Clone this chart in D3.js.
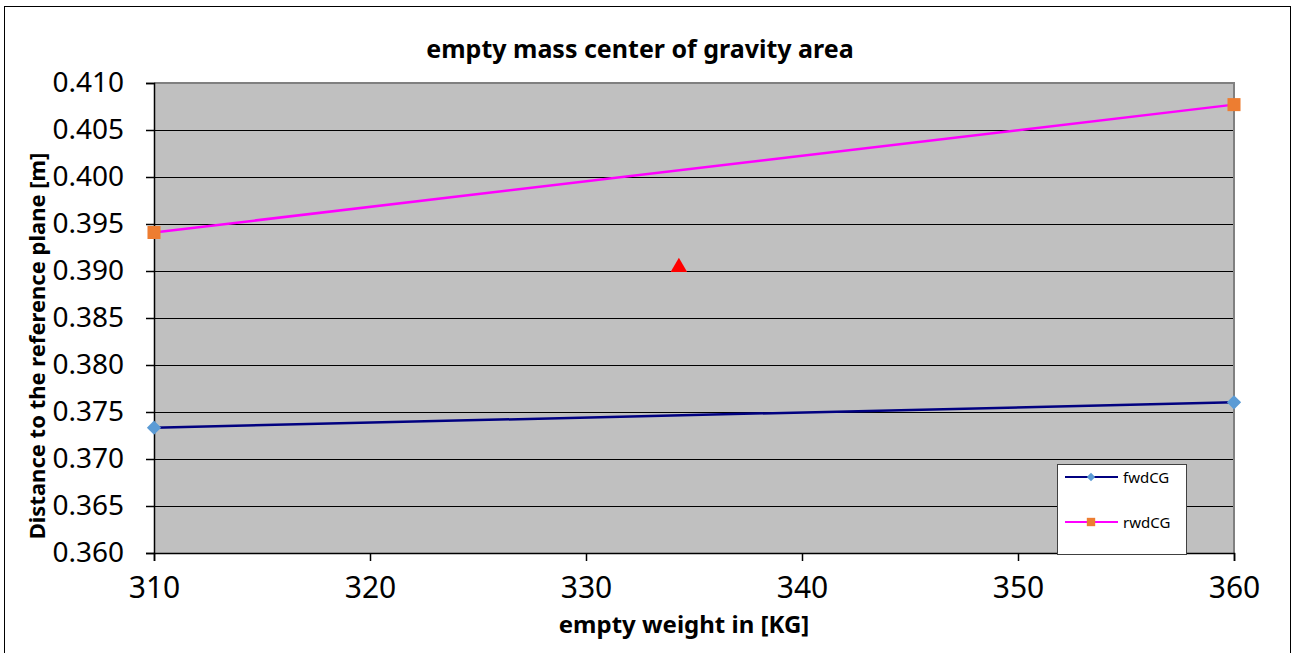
<!DOCTYPE html>
<html>
<head>
<meta charset="utf-8">
<script src="https://cdn.jsdelivr.net/npm/d3@7"></script>
<style>
  body { margin: 0; background: #fff; }
  svg { display: block; font-family: "Noto Sans", "Open Sans", sans-serif; }
</style>
</head>
<body>
<script>
const weights = [310, 360];
const fwdCG = [0.37333, 0.37603];
const rwdCG = [0.3941, 0.4077];
const actualPoint = [334.3, 0.3904];
const xTicks = [310, 320, 330, 340, 350, 360];
const yTicks = [0.360, 0.365, 0.370, 0.375, 0.380, 0.385, 0.390, 0.395, 0.400, 0.405, 0.410];

const width = 1298;
const height = 653;
const plot = { left: 154, top: 83, right: 1234, bottom: 553 };

const svg = d3.select("body")
    .append("svg")
    .attr("width", width)
    .attr("height", height);

// outer chart border
svg.append("rect")
    .attr("x", 4.5).attr("y", 6.5)
    .attr("width", 1286).attr("height", 660)
    .attr("fill", "#fff")
    .attr("stroke", "#000")
    .attr("stroke-width", 1);

const x = d3.scaleLinear().domain([310, 360]).range([plot.left, plot.right]);
const y = d3.scaleLinear().domain([0.360, 0.410]).range([plot.bottom, plot.top]);

// plot background
svg.append("rect")
    .attr("x", plot.left).attr("y", plot.top)
    .attr("width", plot.right - plot.left).attr("height", plot.bottom - plot.top)
    .attr("fill", "#c0c0c0");

// gridlines
svg.append("g")
    .selectAll("line")
    .data(yTicks.slice(1, -1))
    .enter()
    .append("line")
    .attr("x1", plot.left).attr("x2", plot.right)
    .attr("y1", d => Math.round(y(d)) + 0.5).attr("y2", d => Math.round(y(d)) + 0.5)
    .attr("stroke", "#000")
    .attr("stroke-width", 1);

// top + right border of plot
svg.append("path")
    .attr("d", `M${plot.left},${plot.top} H${plot.right} V${plot.bottom}`)
    .attr("fill", "none")
    .attr("stroke", "#808080")
    .attr("stroke-width", 2);

const yAxis = d3.axisLeft(y).tickValues(yTicks).tickFormat(d3.format(".3f")).tickSize(8).tickPadding(22);
const xAxis = d3.axisBottom(x).tickValues(xTicks).tickFormat(d3.format("d")).tickSize(8).tickPadding(16);

svg.append("g")
    .attr("transform", `translate(${plot.left},0)`)
    .call(yAxis)
    .call(g => g.selectAll("text").attr("font-size", 28).attr("fill", "#000").attr("font-family", "Noto Sans"))
    .call(g => g.selectAll("line, path").attr("stroke", "#000").attr("stroke-width", 1.5));

svg.append("g")
    .attr("transform", `translate(0,${plot.bottom})`)
    .call(xAxis)
    .call(g => g.selectAll("text").attr("font-size", 30).attr("fill", "#000").attr("font-family", "Noto Sans"))
    .call(g => g.selectAll("line, path").attr("stroke", "#000").attr("stroke-width", 1.5));

const line = d3.line().x((d, i) => x(weights[i])).y(d => y(d));

svg.append("path")
    .datum(fwdCG)
    .attr("d", line)
    .attr("fill", "none")
    .attr("stroke", "#000080")
    .attr("stroke-width", 2.5);

svg.append("path")
    .datum(rwdCG)
    .attr("d", line)
    .attr("fill", "none")
    .attr("stroke", "#ff00ff")
    .attr("stroke-width", 2.5);

const diamond = d3.symbol().type(d3.symbolDiamond2).size(130);
const square = d3.symbol().type(d3.symbolSquare).size(170);
const triangle = d3.symbol().type(d3.symbolTriangle).size(120);

svg.append("g")
    .selectAll("path")
    .data(fwdCG)
    .enter()
    .append("path")
    .attr("d", diamond)
    .attr("transform", (d, i) => `translate(${x(weights[i])},${y(d)})`)
    .attr("fill", "#5b9bd5");

svg.append("g")
    .selectAll("path")
    .data(rwdCG)
    .enter()
    .append("path")
    .attr("d", square)
    .attr("transform", (d, i) => `translate(${x(weights[i])},${y(d)})`)
    .attr("fill", "#ed7d31");

svg.append("path")
    .attr("d", triangle)
    .attr("transform", `translate(${x(actualPoint[0])},${y(actualPoint[1])})`)
    .attr("fill", "#ff0000");

// titles
svg.append("text")
    .attr("x", 640).attr("y", 58)
    .attr("text-anchor", "middle")
    .attr("font-size", 25).attr("font-weight", "bold")
    .text("empty mass center of gravity area");

svg.append("text")
    .attr("x", 684).attr("y", 633)
    .attr("text-anchor", "middle")
    .attr("font-size", 24).attr("font-weight", "bold")
    .text("empty weight in [KG]");

svg.append("text")
    .attr("transform", "translate(45,346) rotate(-90)")
    .attr("text-anchor", "middle")
    .attr("font-size", 22).attr("font-weight", "bold")
    .text("Distance to the reference plane [m]");

// legend
const legend = svg.append("g").attr("transform", "translate(1057,464)");
legend.append("rect")
    .attr("x", 0.5).attr("y", 0.5)
    .attr("width", 129).attr("height", 90)
    .attr("fill", "#fff")
    .attr("stroke", "#404040")
    .attr("stroke-width", 1);

const legendItems = [
    { name: "fwdCG", color: "#000080", marker: d3.symbol().type(d3.symbolDiamond2).size(45), fill: "#5b9bd5", dy: 13 },
    { name: "rwdCG", color: "#ff00ff", marker: d3.symbol().type(d3.symbolSquare).size(70), fill: "#ed7d31", dy: 58 }
];
legendItems.forEach(item => {
    const g = legend.append("g").attr("transform", `translate(0,${item.dy})`);
    g.append("line").attr("x1", 8).attr("x2", 61)
        .attr("stroke", item.color).attr("stroke-width", 2);
    g.append("path").attr("d", item.marker)
        .attr("transform", "translate(34,0)").attr("fill", item.fill);
    g.append("text").attr("x", 66).attr("y", 5.5)
        .attr("font-size", 15).text(item.name);
});
</script>
</body>
</html>
